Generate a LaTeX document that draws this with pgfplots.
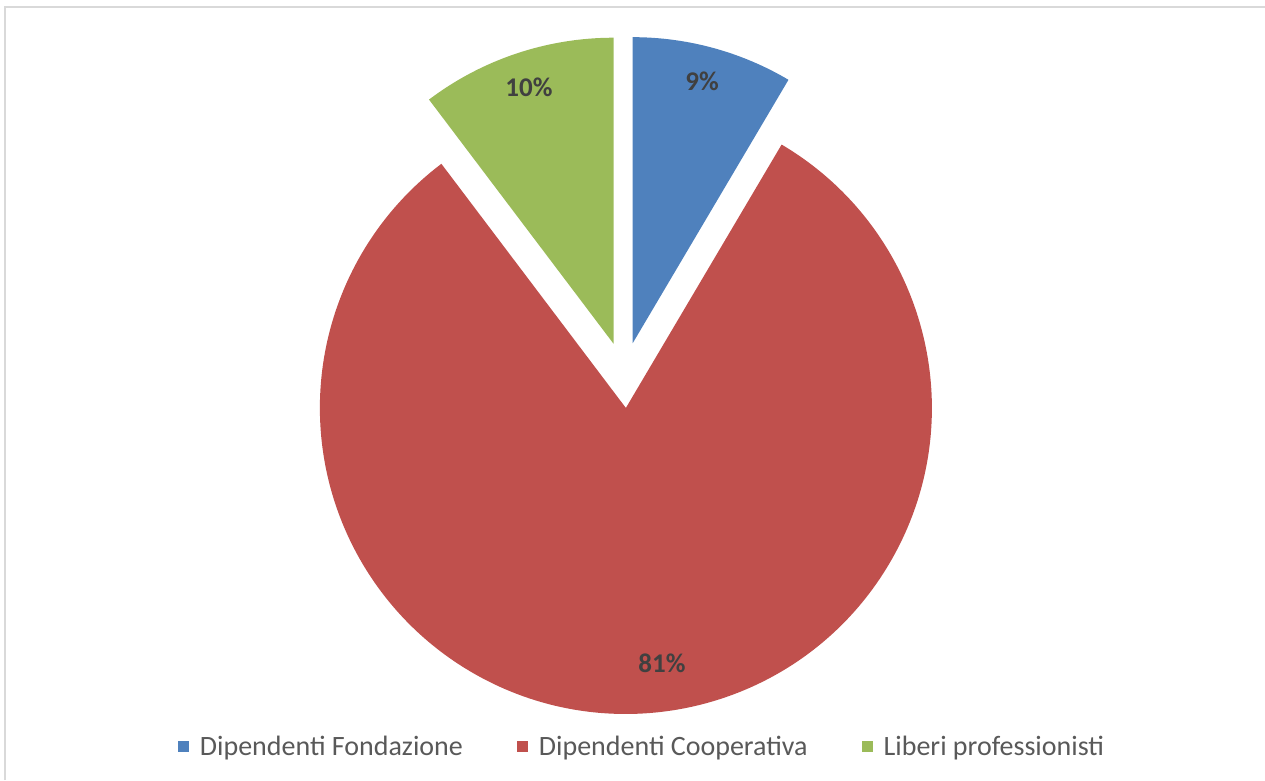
\documentclass[border=0pt]{standalone}
\usepackage{pgfplots}
\usepackage{pgfplotstable}
\pgfplotsset{compat=1.18}
\usepackage{fontspec}
\setmainfont{Carlito}
\definecolor{cA}{HTML}{4F81BD}
\definecolor{cB}{HTML}{C0504D}
\definecolor{cC}{HTML}{9BBB59}
\definecolor{lab}{HTML}{404040}
\definecolor{legt}{HTML}{595959}
\definecolor{framec}{HTML}{D9D9D9}

% share of each group (percent)
\pgfplotstableread{
share
8.5
81.2
10.3
}\piedata

\begin{document}
\begin{tikzpicture}
\pgfplotstablegetelem{0}{share}\of\piedata \let\vA\pgfplotsretval
\pgfplotstablegetelem{1}{share}\of\piedata \let\vB\pgfplotsretval
\pgfplotstablegetelem{2}{share}\of\piedata \let\vC\pgfplotsretval
\pgfmathsetmacro\aA{90}
\pgfmathsetmacro\aB{\aA-3.6*\vA}
\pgfmathsetmacro\aC{\aB-3.6*\vB}
\pgfmathsetmacro\aD{\aC-3.6*\vC}
\def\cx{624}\def\cy{405}\def\R{306}\def\ex{33}
\pgfmathsetmacro\pAx{\cx+\ex*cos((\aA+\aB)/2)}
\pgfmathsetmacro\pAy{\cy+\ex*sin((\aA+\aB)/2)}
\pgfmathsetmacro\pBx{\cx+\ex*cos((\aB+\aC)/2)}
\pgfmathsetmacro\pBy{\cy+\ex*sin((\aB+\aC)/2)}
\pgfmathsetmacro\pCx{\cx+\ex*cos((\aC+\aD)/2)}
\pgfmathsetmacro\pCy{\cy+\ex*sin((\aC+\aD)/2)}
\begin{axis}[
  scale only axis, width=1265pt, height=780pt,
  xmin=0, xmax=1265, ymin=0, ymax=780,
  hide axis, clip=false,
  legend image code/.code={\path[fill=none, draw=none] (0pt,-5.5pt) rectangle (20pt,5.5pt);
    \fill[#1] (0pt,-5.5pt) rectangle (11pt,5.5pt);},
  legend columns=3,
  legend style={draw=none, fill=none, text=legt,
    font=\fontsize{28}{33}\selectfont,
    at={(axis description cs:0.5075,0.043)}, anchor=center,
    /tikz/every even column/.append style={column sep=52pt},
    cells={anchor=west}},
]
\addplot[fill=cA, draw=none] coordinates {(\pAx,\pAy)}
  -- +(\aA:\R pt) arc[start angle=\aA, end angle=\aB, radius=\R pt] -- cycle;
\addlegendentry{Dipendenti Fondazione}
\addplot[fill=cB, draw=none] coordinates {(\pBx,\pBy)}
  -- +(\aB:\R pt) arc[start angle=\aB, end angle=\aC, radius=\R pt] -- cycle;
\addlegendentry{Dipendenti Cooperativa}
\addplot[fill=cC, draw=none] coordinates {(\pCx,\pCy)}
  -- +(\aC:\R pt) arc[start angle=\aC, end angle=\aD, radius=\R pt] -- cycle;
\addlegendentry{Liberi professionisti}
\node[font=\bfseries\fontsize{27}{32}\selectfont, text=lab] at (702,699) {9\%};
\node[font=\bfseries\fontsize{27}{32}\selectfont, text=lab] at (529,693) {10\%};
\node[font=\bfseries\fontsize{27}{32}\selectfont, text=lab] at (662,117) {81\%};
\draw[framec, line width=2pt] (5,0) -- (5,773) -- (1265,773);
\end{axis}
\pgfresetboundingbox
\useasboundingbox (0pt,0pt) rectangle (1265pt,780pt);
\end{tikzpicture}
\end{document}
